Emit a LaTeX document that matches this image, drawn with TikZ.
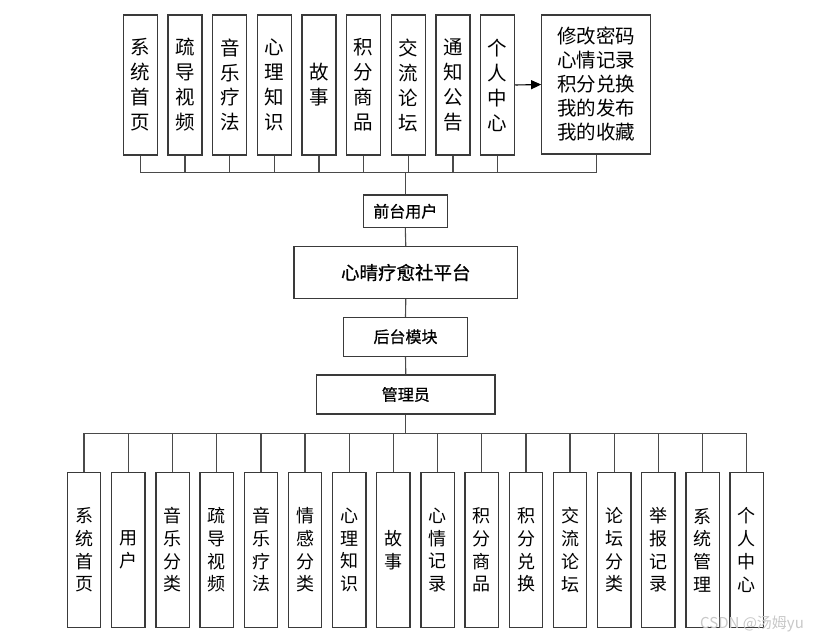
\documentclass[tikz,border=0pt]{standalone}
\usepackage{fontspec}
\setmainfont{Noto Sans CJK SC}
\newfontfamily\midfont{Noto Sans CJK SC}[FakeBold=0.7]
\usetikzlibrary{arrows.meta}
\definecolor{boxline}{HTML}{3A3A3A}
\definecolor{conn}{HTML}{4A4A4A}
\definecolor{wm}{HTML}{C8C8C8}
\tikzset{
  vbox/.style={draw=boxline, line width=1.1pt, fill=white, rectangle, inner sep=0pt,
    minimum width=34pt, minimum height=140pt, align=center,
    font=\fontsize{19.5}{25}\selectfont},
  vboxb/.style={draw=boxline, line width=1.1pt, fill=white, rectangle, inner sep=0pt,
    minimum width=33.4pt, minimum height=154.6pt, align=center,
    font=\fontsize{18}{22.7}\selectfont},
  hbox/.style={draw=boxline, line width=1.1pt, fill=white, rectangle, inner sep=0pt, align=center},
  link/.style={draw=conn, line width=1.1pt},
}
\begin{document}
\begin{tikzpicture}[x=1pt,y=-1pt]
\useasboundingbox (0,0) rectangle (815,640);
% top boxes
\node[vbox] (t1) at (140.3,85) {系\\统\\首\\页};
\node[vbox] (t2) at (185.0,85) {疏\\导\\视\\频};
\node[vbox] (t3) at (229.8,85) {音\\乐\\疗\\法};
\node[vbox] (t4) at (274.3,85) {心\\理\\知\\识};
\node[vbox] (t5) at (319.0,85) {故\\事};
\node[vbox] (t6) at (363.7,85) {积\\分\\商\\品};
\node[vbox] (t7) at (408.3,85) {交\\流\\论\\坛};
\node[vbox] (t8) at (453.0,85) {通\\知\\公\\告};
\node[vbox] (t9) at (497.7,85) {个\\人\\中\\心};
\node[hbox, minimum width=109pt, minimum height=139pt, font=\fontsize{19.5}{24}\selectfont] (tbig) at (596.2,84.5)
  {修改密码\\心情记录\\积分兑换\\我的发布\\我的收藏};
\draw[link, draw=black, -{Triangle[length=10pt,width=9pt]}] (t9.east) -- (tbig.west);
% middle column
\node[hbox, minimum width=84pt, minimum height=32.7pt, font=\midfont\fontsize{16}{18}\selectfont] (front) at (405.3,211.3) {前台用户};
\node[hbox, minimum width=223.7pt, minimum height=51.6pt, font=\midfont\fontsize{18.5}{22}\selectfont] (plat) at (405.8,272.5) {心晴疗愈社平台};
\node[hbox, minimum width=124.4pt, minimum height=38.7pt, font=\midfont\fontsize{16}{18}\selectfont] (back) at (405.5,336.7) {后台模块};
\node[hbox, minimum width=178.3pt, minimum height=39pt, font=\midfont\fontsize{16}{18}\selectfont] (admin) at (405.8,394.5) {管理员};
\draw[link] (front.south) -- (plat.north);
\draw[link] (plat.south) -- (back.north);
\draw[link] (back.south) -- (admin.north);
% top bus
\foreach \n in {t1,t2,t3,t4,t5,t6,t7,t8,t9,tbig}{
  \draw[link] (front.north) -- ++(0,-21.7) -| (\n.south);
}
% bottom boxes
\node[vboxb] (b1) at (84.0,550) {系\\统\\首\\页};
\node[vboxb] (b2) at (128.3,550) {用\\户};
\node[vboxb] (b3) at (172.7,550) {音\\乐\\分\\类};
\node[vboxb] (b4) at (216.7,550) {疏\\导\\视\\频};
\node[vboxb] (b5) at (261.0,550) {音\\乐\\疗\\法};
\node[vboxb] (b6) at (305.0,550) {情\\感\\分\\类};
\node[vboxb] (b7) at (349.3,550) {心\\理\\知\\识};
\node[vboxb] (b8) at (393.3,550) {故\\事};
\node[vboxb] (b9) at (437.7,550) {心\\情\\记\\录};
\node[vboxb] (b10) at (481.7,550) {积\\分\\商\\品};
\node[vboxb] (b11) at (526.0,550) {积\\分\\兑\\换};
\node[vboxb] (b12) at (570.0,550) {交\\流\\论\\坛};
\node[vboxb] (b13) at (614.3,550) {论\\坛\\分\\类};
\node[vboxb] (b14) at (658.3,550) {举\\报\\记\\录};
\node[vboxb] (b15) at (702.7,550) {系\\统\\管\\理};
\node[vboxb] (b16) at (746.7,550) {个\\人\\中\\心};
\foreach \n in {b1,b2,b3,b4,b5,b6,b7,b8,b9,b10,b11,b12,b13,b14,b15,b16}{
  \draw[link] (admin.south) -- ++(0,18.7) -| (\n.north);
}
% watermark
\node[text=wm, font=\fontsize{15}{17}\selectfont, inner sep=0pt] (wmk) at (752,624) {CSDN @汤姆yu};
\end{tikzpicture}
\end{document}
